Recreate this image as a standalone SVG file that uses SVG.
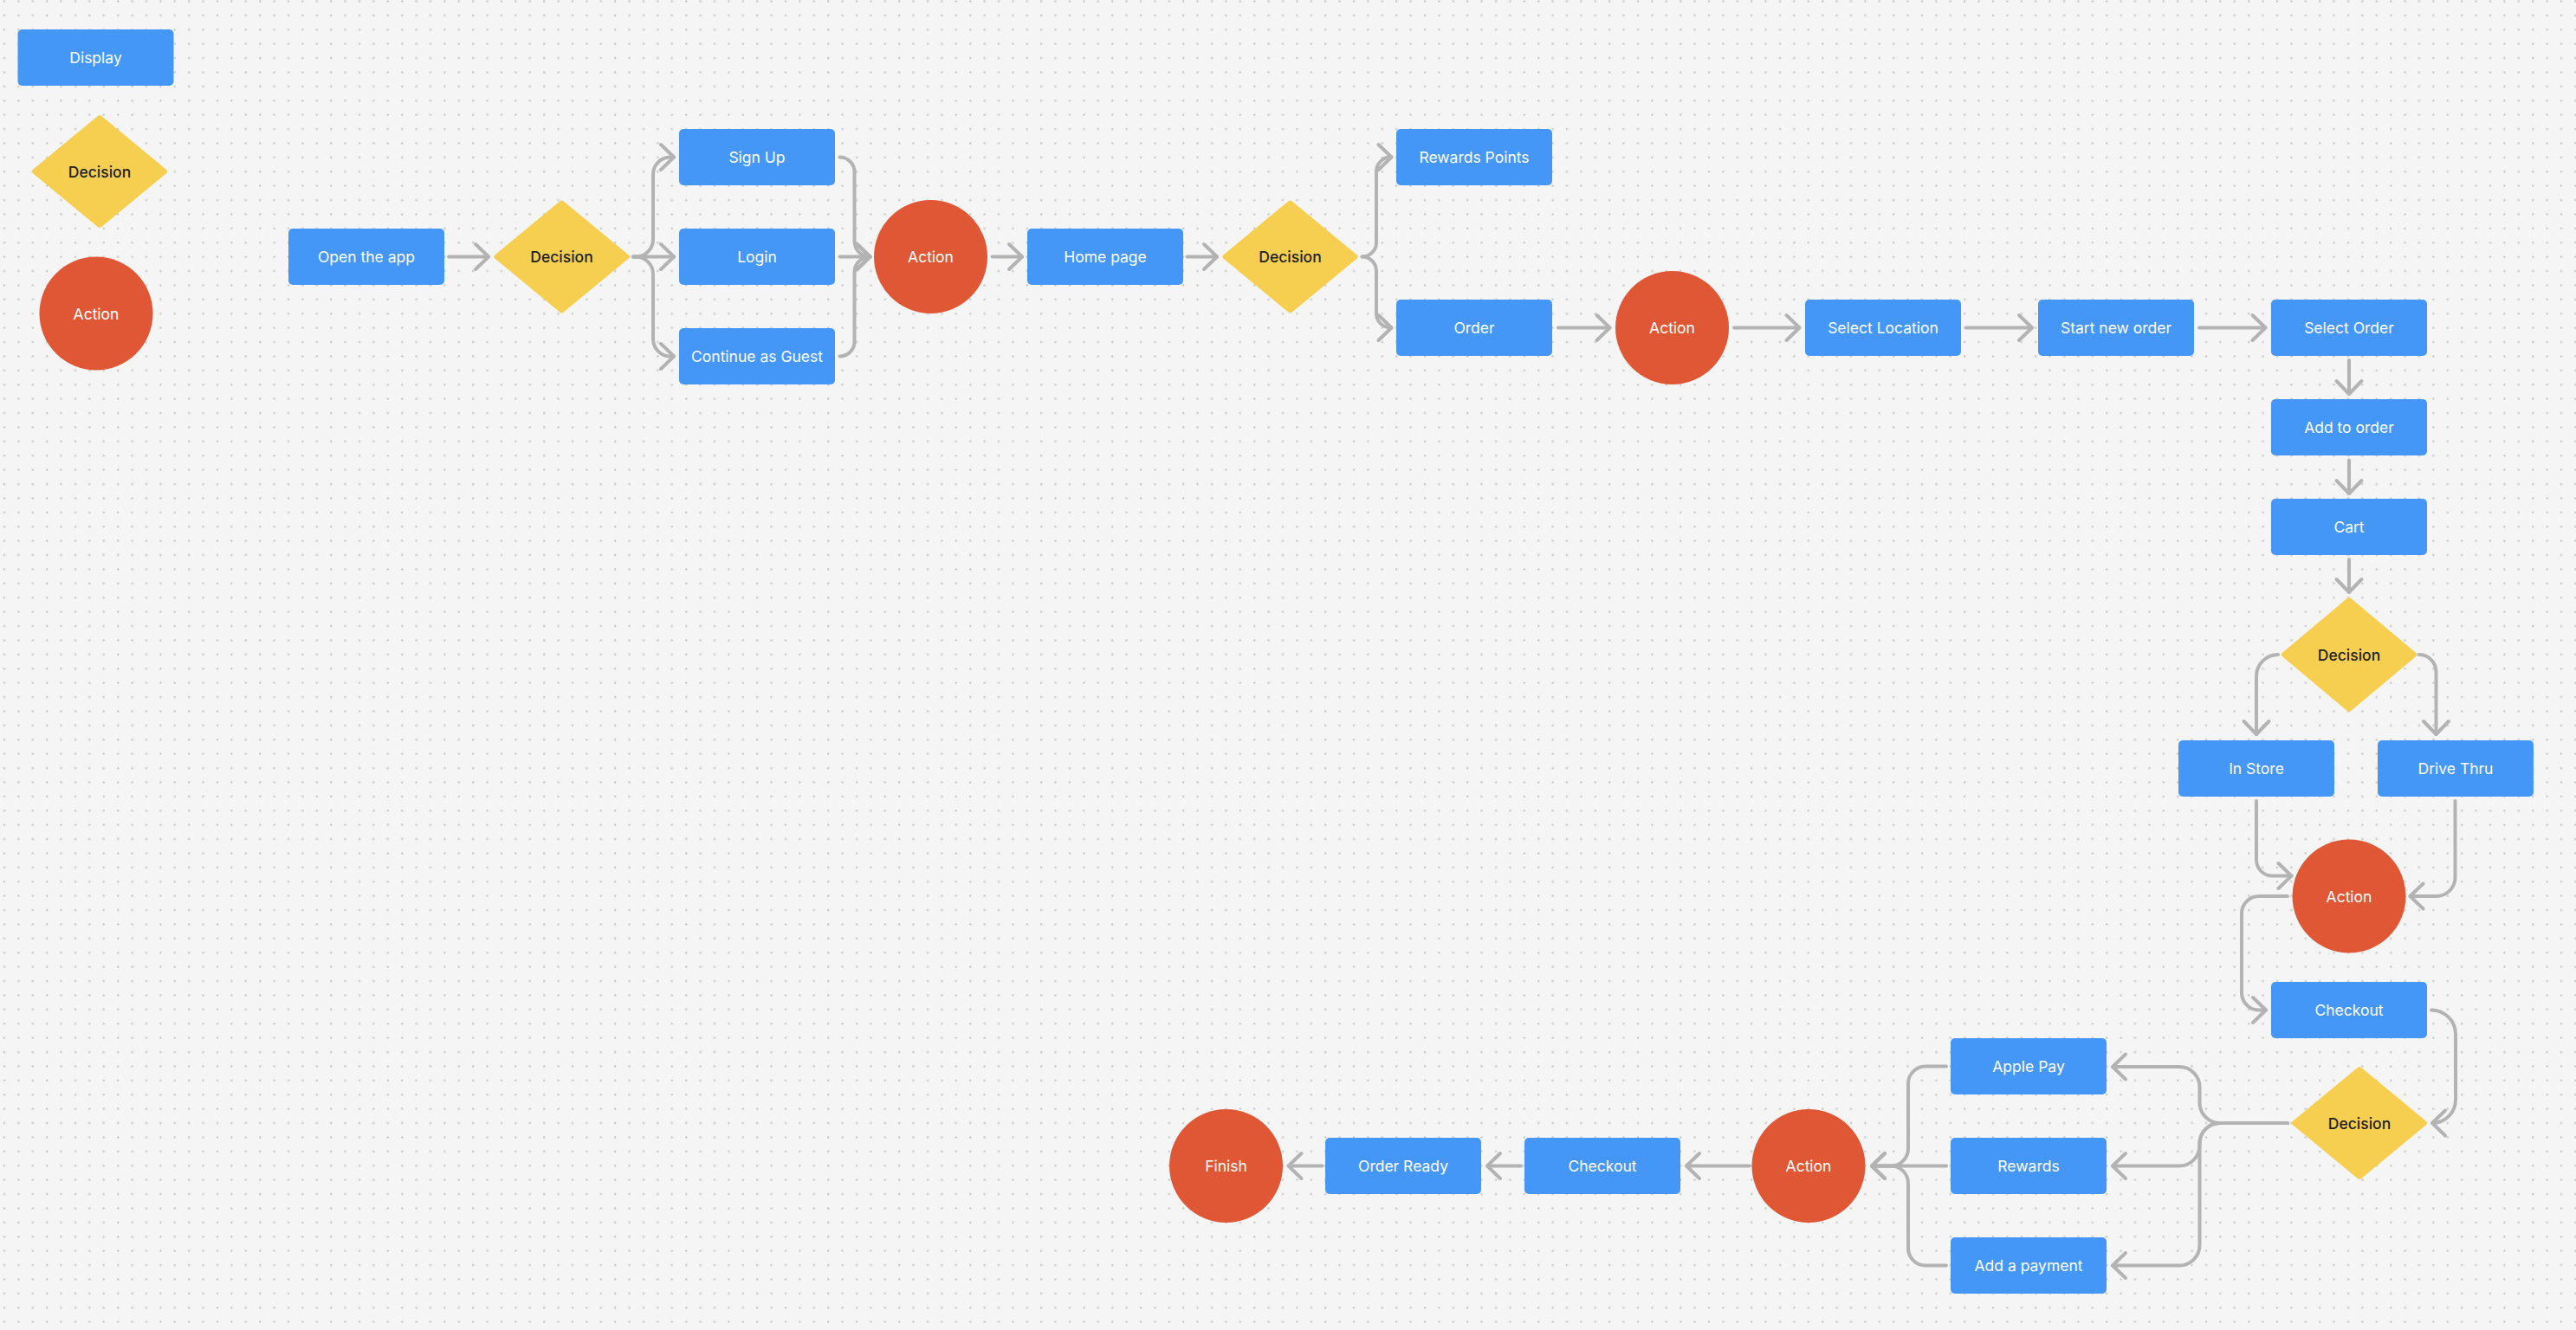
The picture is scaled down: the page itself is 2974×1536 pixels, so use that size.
<svg xmlns="http://www.w3.org/2000/svg" width="2974" height="1536" viewBox="0 0 2974 1536">
<style>
.box{fill:#4597F7}
.dia{fill:#F7CF50;stroke:#F7CF50;stroke-width:6;stroke-linejoin:round}
.act{fill:#E05736}
.lw{font-family:Inter,"Noto Sans",sans-serif;font-size:17.5px;font-weight:400;fill:#FFFFFF;text-anchor:middle;dominant-baseline:central}
.ld{font-family:Inter,"Noto Sans",sans-serif;font-size:17.5px;font-weight:500;fill:#1E1E1E;text-anchor:middle;dominant-baseline:central}
.c{fill:none;stroke:#B3B3B3;stroke-width:4;stroke-linecap:round;stroke-linejoin:round;marker-end:url(#ah)}
</style>
<defs>
<pattern id="dots" width="16.4" height="16.4" patternUnits="userSpaceOnUse">
<circle cx="5" cy="1.5" r="1.2" fill="#C4C4C4"/>
</pattern>
<marker id="ah" markerUnits="userSpaceOnUse" markerWidth="40" markerHeight="40" viewBox="-20 -20 40 40" refX="0" refY="0" orient="auto" overflow="visible">
<path d="M-15,-14.5 L0,0 L-15,14.5" fill="none" stroke="#B3B3B3" stroke-width="4" stroke-linecap="round" stroke-linejoin="round"/>
</marker>
</defs>
<rect width="2974" height="1536" fill="#F5F5F5"/>
<rect width="2974" height="1536" fill="url(#dots)"/>

<g id="connectors">
<path class="c" d="M518 296.5 H564"/>
<path class="c" d="M731 296.5 H734 A20 20 0 0 0 754 276.5 V201.5 A20 20 0 0 1 774 181.5 H778"/>
<path class="c" d="M731 296.5 H778"/>
<path class="c" d="M731 296.5 H734 A20 20 0 0 1 754 316.5 V391.5 A20 20 0 0 0 774 411.5 H778"/>
<path class="c" d="M969.5 181.5 A17 17 0 0 1 986.5 198.5 V278.5 A18 18 0 0 0 1004.5 296.5"/>
<path class="c" d="M969.5 296.5 H1004.5"/>
<path class="c" d="M969.5 411.5 A17 17 0 0 0 986.5 394.5 V314.5 A18 18 0 0 1 1004.5 296.5"/>
<path class="c" d="M1145.5 296.5 H1180"/>
<path class="c" d="M1370.5 296.5 H1405"/>
<path class="c" d="M1572.5 296.5 A16.5 16.5 0 0 0 1589 280 V198 A16.5 16.5 0 0 1 1605.5 181.5 H1606.5"/>
<path class="c" d="M1572.5 296.5 A16.5 16.5 0 0 1 1589 313 V362 A16.5 16.5 0 0 0 1605.5 378.5 H1606.5"/>
<path class="c" d="M1799 378.5 H1858.5"/>
<path class="c" d="M2002 378.5 H2077.5"/>
<path class="c" d="M2270 378.5 H2346"/>
<path class="c" d="M2539 378.5 H2615.5"/>
<path class="c" d="M2712 416 V455"/>
<path class="c" d="M2712 531.5 V570"/>
<path class="c" d="M2712 646 V684"/>
<path class="c" d="M2630 756 A25 25 0 0 0 2605 781 V848"/>
<path class="c" d="M2792.5 756 A20 20 0 0 1 2812.5 776 V848"/>
<path class="c" d="M2605 925 V993 A18.5 18.5 0 0 0 2623.5 1011.5 H2645.5"/>
<path class="c" d="M2834.5 925 V1013 A22 22 0 0 1 2812.5 1035 H2782.5"/>
<path class="c" d="M2641 1035 H2608 A20 20 0 0 0 2588 1055 V1146.5 A20 20 0 0 0 2608 1166.5 H2616"/>
<path class="c" d="M2807 1166.5 A28 28 0 0 1 2835 1194.5 V1270 A27 27 0 0 1 2808 1297"/>
<path class="c" d="M2641 1297 H2563 A23.5 23.5 0 0 1 2539.5 1273.5 V1255.5 A23.5 23.5 0 0 0 2516 1232 H2439"/>
<path class="c" d="M2641 1297 H2563 A23.5 23.5 0 0 0 2539.5 1320.5 V1323 A23.5 23.5 0 0 1 2516 1346.5 H2439"/>
<path class="c" d="M2641 1297 H2563 A23.5 23.5 0 0 0 2539.5 1320.5 V1438 A23.5 23.5 0 0 1 2516 1461.5 H2439"/>
<path class="c" d="M2247 1231.5 H2223 A20 20 0 0 0 2203 1251.5 V1326.5 A20 20 0 0 1 2183 1346.5 H2161"/>
<path class="c" d="M2247 1346.5 H2161"/>
<path class="c" d="M2247 1461.5 H2223 A20 20 0 0 1 2203 1441.5 V1366.5 A20 20 0 0 0 2183 1346.5 H2161"/>
<path class="c" d="M2019.5 1346.5 H1947"/>
<path class="c" d="M1756 1346.5 H1717"/>
<path class="c" d="M1526.5 1346.5 H1487.5"/>
</g>

<g id="legend-display"><rect class="box" x="20.5" y="34" width="180" height="65" rx="5"/><text class="lw" x="110.5" y="66.5">Display</text></g>
<g id="legend-decision"><polygon class="dia" points="115,136 190,198 115,260 40,198"/><text class="ld" x="115" y="198">Decision</text></g>
<g id="legend-action"><circle class="act" cx="111" cy="362" r="65.5"/><text class="lw" x="111" y="362">Action</text></g>

<g id="open-app"><rect class="box" x="333" y="264" width="180" height="65" rx="5"/><text class="lw" x="423" y="296.5">Open the app</text></g>
<g id="decision-1"><polygon class="dia" points="648.5,234.5 723.5,296.5 648.5,358.5 573.5,296.5"/><text class="ld" x="648.5" y="296.5">Decision</text></g>
<g id="sign-up"><rect class="box" x="784" y="149" width="180" height="65" rx="5"/><text class="lw" x="874" y="181.5">Sign Up</text></g>
<g id="login"><rect class="box" x="784" y="264" width="180" height="65" rx="5"/><text class="lw" x="874" y="296.5">Login</text></g>
<g id="guest"><rect class="box" x="784" y="379" width="180" height="65" rx="5"/><text class="lw" x="874" y="411.5">Continue as Guest</text></g>
<g id="action-1"><circle class="act" cx="1074.5" cy="296.5" r="65.5"/><text class="lw" x="1074.5" y="296.5">Action</text></g>
<g id="home-page"><rect class="box" x="1186" y="264" width="180" height="65" rx="5"/><text class="lw" x="1276" y="296.5">Home page</text></g>
<g id="decision-2"><polygon class="dia" points="1489.5,234.5 1564.5,296.5 1489.5,358.5 1414.5,296.5"/><text class="ld" x="1489.5" y="296.5">Decision</text></g>
<g id="rewards-points"><rect class="box" x="1612" y="149" width="180" height="65" rx="5"/><text class="lw" x="1702" y="181.5">Rewards Points</text></g>
<g id="order"><rect class="box" x="1612" y="346" width="180" height="65" rx="5"/><text class="lw" x="1702" y="378.5">Order</text></g>
<g id="action-2"><circle class="act" cx="1930.5" cy="378.5" r="65.5"/><text class="lw" x="1930.5" y="378.5">Action</text></g>
<g id="select-location"><rect class="box" x="2084" y="346" width="180" height="65" rx="5"/><text class="lw" x="2174" y="378.5">Select Location</text></g>
<g id="start-new-order"><rect class="box" x="2353" y="346" width="180" height="65" rx="5"/><text class="lw" x="2443" y="378.5">Start new order</text></g>
<g id="select-order"><rect class="box" x="2622" y="346" width="180" height="65" rx="5"/><text class="lw" x="2712" y="378.5">Select Order</text></g>
<g id="add-to-order"><rect class="box" x="2622" y="461" width="180" height="65" rx="5"/><text class="lw" x="2712" y="493.5">Add to order</text></g>
<g id="cart"><rect class="box" x="2622" y="576" width="180" height="65" rx="5"/><text class="lw" x="2712" y="608.5">Cart</text></g>
<g id="decision-3"><polygon class="dia" points="2712,693 2787,756 2712,819 2637,756"/><text class="ld" x="2712" y="756">Decision</text></g>
<g id="in-store"><rect class="box" x="2515" y="855" width="180" height="65" rx="5"/><text class="lw" x="2605" y="887.5">In Store</text></g>
<g id="drive-thru"><rect class="box" x="2745" y="855" width="180" height="65" rx="5"/><text class="lw" x="2835" y="887.5">Drive Thru</text></g>
<g id="action-3"><circle class="act" cx="2712" cy="1035" r="65.5"/><text class="lw" x="2712" y="1035">Action</text></g>
<g id="checkout-1"><rect class="box" x="2622" y="1134" width="180" height="65" rx="5"/><text class="lw" x="2712" y="1166.5">Checkout</text></g>
<g id="decision-4"><polygon class="dia" points="2724,1235 2799,1297 2724,1359 2649,1297"/><text class="ld" x="2724" y="1297">Decision</text></g>
<g id="apple-pay"><rect class="box" x="2252" y="1199" width="180" height="65" rx="5"/><text class="lw" x="2342" y="1231.5">Apple Pay</text></g>
<g id="rewards"><rect class="box" x="2252" y="1314" width="180" height="65" rx="5"/><text class="lw" x="2342" y="1346.5">Rewards</text></g>
<g id="add-payment"><rect class="box" x="2252" y="1429" width="180" height="65" rx="5"/><text class="lw" x="2342" y="1461.5">Add a payment</text></g>
<g id="action-4"><circle class="act" cx="2088" cy="1346.5" r="65.5"/><text class="lw" x="2088" y="1346.5">Action</text></g>
<g id="checkout-2"><rect class="box" x="1760" y="1314" width="180" height="65" rx="5"/><text class="lw" x="1850" y="1346.5">Checkout</text></g>
<g id="order-ready"><rect class="box" x="1530" y="1314" width="180" height="65" rx="5"/><text class="lw" x="1620" y="1346.5">Order Ready</text></g>
<g id="finish"><circle class="act" cx="1415.5" cy="1346.5" r="65.5"/><text class="lw" x="1415.5" y="1346.5">Finish</text></g>
</svg>
